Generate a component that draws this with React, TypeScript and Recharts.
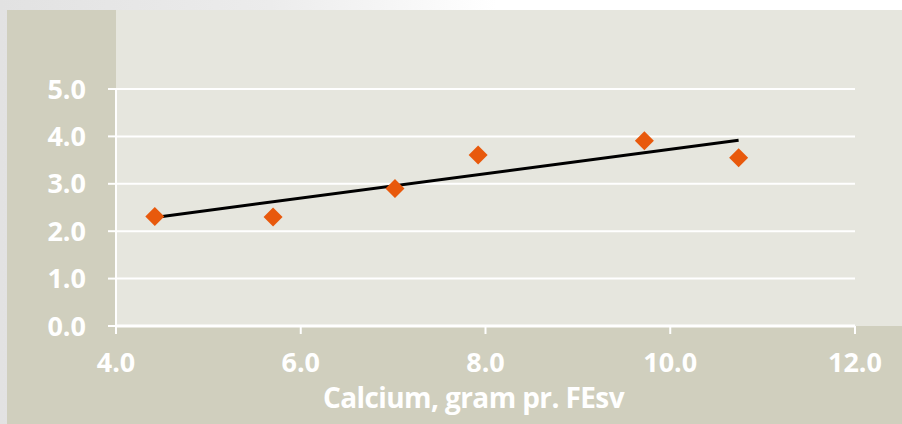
import React from 'react';
import { ScatterChart, Scatter, XAxis, YAxis, CartesianGrid, Label } from 'recharts';

// measured points (calcium g per FEsv vs. y value)
const calcium = [4.42, 5.7, 7.02, 7.92, 9.72, 10.74];
const values = [2.31, 2.3, 2.9, 3.61, 3.91, 3.55];

// trendline end points
const trendX = [4.42, 10.74];
const trendY = [2.29, 3.92];

const xTicks = [4, 6, 8, 10, 12];
const yTicks = [0, 1, 2, 3, 4, 5];

const points = calcium.map((x, i) => ({ x, y: values[i] }));
const trend = trendX.map((x, i) => ({ x, y: trendY[i] }));

const FONT = '"Open Sans", sans-serif';

const Diamond = (props: any) => {
  const { cx, cy } = props;
  if (cx == null || cy == null) return <g />;
  const r = 9.5;
  return (
    <polygon
      points={`${cx},${cy - r} ${cx + r},${cy} ${cx},${cy + r} ${cx - r},${cy}`}
      fill="#e8590c"
    />
  );
};

const tickStyle = { fill: '#ffffff', fontSize: 27, fontWeight: 700, fontFamily: FONT };

export default function App() {
  return (
    <div
      style={{
        position: 'absolute',
        left: 0,
        top: 0,
        width: 902,
        height: 424,
        overflow: 'hidden',
        background: 'linear-gradient(90deg, #e2e2e2 0%, #ececec 30%, #ffffff 55%)',
      }}
    >
      {/* dark beige frame */}
      <div style={{ position: 'absolute', left: 7, top: 10, width: 895, height: 414, background: '#d0cfbe' }} />
      {/* light plot panel */}
      <div style={{ position: 'absolute', left: 116, top: 10, width: 786, height: 316, background: '#e6e6de' }} />

      <div style={{ position: 'absolute', left: 0, top: 0 }}>
        <ScatterChart width={902} height={424} margin={{ top: 89, right: 47, bottom: 0, left: 0 }}>
          <CartesianGrid horizontal vertical={false} stroke="#ffffff" strokeWidth={2} />
          <XAxis
            type="number"
            dataKey="x"
            domain={[4, 12]}
            ticks={xTicks}
            tickFormatter={(v: number) => v.toFixed(1)}
            axisLine={{ stroke: '#ffffff', strokeWidth: 3 }}
            tickLine={{ stroke: '#ffffff', strokeWidth: 2 }}
            tickSize={8}
            tickMargin={19}
            tick={tickStyle}
            height={98}
            interval={0}
          >
            <Label
              value="Calcium, gram pr. FEsv"
              position="insideBottom"
              offset={16}
              dx={-12}
              style={{ fill: '#ffffff', fontSize: 28, fontWeight: 700, fontFamily: FONT, letterSpacing: -0.6 }}
            />
          </XAxis>
          <YAxis
            type="number"
            dataKey="y"
            domain={[0, 5]}
            ticks={yTicks}
            tickFormatter={(v: number) => v.toFixed(1)}
            axisLine={{ stroke: '#ffffff', strokeWidth: 2 }}
            tickLine={{ stroke: '#ffffff', strokeWidth: 2 }}
            tickSize={8}
            tickMargin={22}
            tick={tickStyle}
            width={116}
            interval={0}
          />
          <Scatter
            data={trend}
            line={{ stroke: '#000000', strokeWidth: 3 }}
            shape={() => <g />}
            isAnimationActive={false}
            legendType="none"
          />
          <Scatter data={points} shape={Diamond} isAnimationActive={false} />
        </ScatterChart>
      </div>
    </div>
  );
}
